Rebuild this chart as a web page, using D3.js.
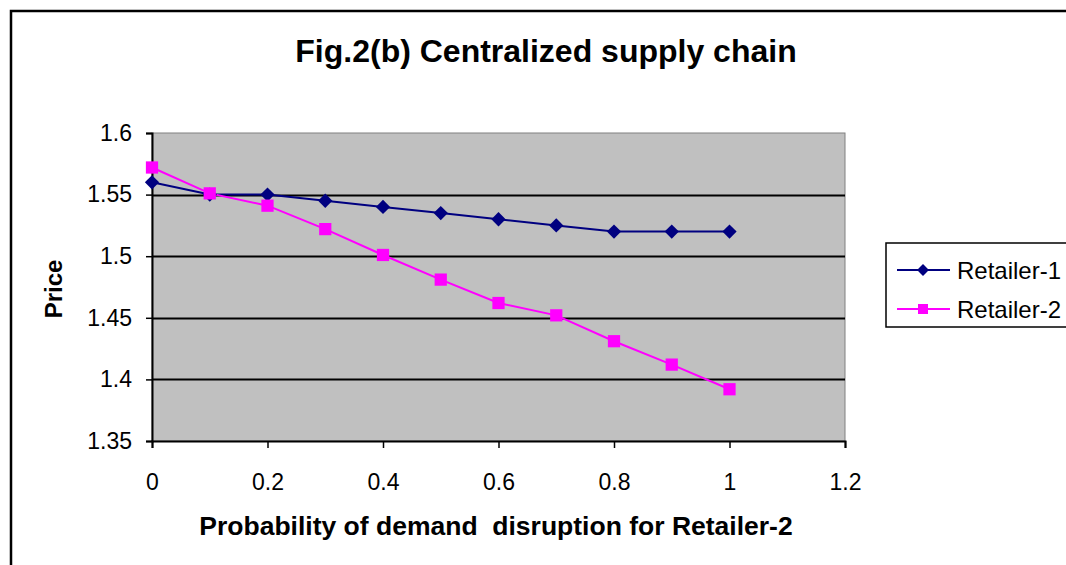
<!DOCTYPE html>
<html>
<head>
<meta charset="utf-8">
<script src="https://cdn.jsdelivr.net/npm/d3@7"></script>
<style>
  html, body { margin: 0; padding: 0; background: #fff; }
  svg { display: block; font-family: Arial, "Liberation Sans", sans-serif; }
</style>
</head>
<body>
<svg id="chart" width="1066" height="565"></svg>
<script>
// Probability of demand disruption for Retailer-2
const probabilities = [0, 0.1, 0.2, 0.3, 0.4, 0.5, 0.6, 0.7, 0.8, 0.9, 1.0];
// Centralized prices
const retailer1 = [1.56, 1.55, 1.55, 1.545, 1.54, 1.535, 1.53, 1.525, 1.52, 1.52, 1.52];
const retailer2 = [1.572, 1.551, 1.541, 1.522, 1.501, 1.481, 1.462, 1.452, 1.431, 1.412, 1.392];
const xTicks = [0, 0.2, 0.4, 0.6, 0.8, 1, 1.2];
const yTicks = [1.35, 1.4, 1.45, 1.5, 1.55, 1.6];
const seriesNames = ["Retailer-1", "Retailer-2"];
const seriesColors = ["#000080", "#FF00FF"];

const FONT = "Arial, 'Liberation Sans', sans-serif";
const svg = d3.select("#chart");
const plot = { left: 152, right: 845, top: 133, bottom: 441 };

const x = d3.scaleLinear().domain([0, 1.2]).range([plot.left, plot.right]);
const y = d3.scaleLinear().domain([1.35, 1.6]).range([plot.bottom, plot.top]);

// Outer chart frame (only left and top edges fall inside the view)
svg.append("path")
  .attr("d", `M11,565 V11 H1066`)
  .attr("fill", "none").attr("stroke", "#000").attr("stroke-width", 2.5);

// Plot area background
svg.append("rect")
  .attr("x", plot.left).attr("y", plot.top)
  .attr("width", plot.right - plot.left).attr("height", plot.bottom - plot.top)
  .attr("fill", "#C0C0C0").attr("stroke", "#808080").attr("stroke-width", 1);

// Horizontal gridlines
svg.append("g").selectAll("line")
  .data(yTicks.filter(t => t > 1.35 && t < 1.6))
  .join("line")
  .attr("x1", plot.left).attr("x2", plot.right)
  .attr("y1", d => Math.round(y(d)) + 0.5).attr("y2", d => Math.round(y(d)) + 0.5)
  .attr("stroke", "#000").attr("stroke-width", 2);

// Axes
const yAxis = d3.axisLeft(y).tickValues(yTicks).tickSize(6).tickPadding(14)
  .tickFormat(d => String(+d.toFixed(2)));
const gy = svg.append("g").attr("transform", `translate(${plot.left},0)`).call(yAxis);
gy.attr("font-size", null).attr("font-family", null);
gy.select(".domain").attr("stroke", "#000").attr("stroke-width", 2);
gy.selectAll(".tick line").attr("stroke", "#000").attr("stroke-width", 1.5);
gy.selectAll(".tick text").style("font-size", "23px").attr("fill", "#000").style("font-family", FONT);

const xAxis = d3.axisBottom(x).tickValues(xTicks).tickSize(7).tickPadding(26)
  .tickFormat(d => String(+d.toFixed(1)));
const gx = svg.append("g").attr("transform", `translate(0,${plot.bottom})`).call(xAxis);
gx.attr("font-size", null).attr("font-family", null);
gx.select(".domain").attr("stroke", "#000").attr("stroke-width", 2);
gx.selectAll(".tick line").attr("stroke", "#000").attr("stroke-width", 1.5);
gx.selectAll(".tick text").style("font-size", "23px").attr("fill", "#000").style("font-family", FONT);

// Series
const series = [retailer1, retailer2];
const line = d3.line().x((d, i) => x(probabilities[i])).y(d => y(d));
const diamond = d3.symbol().type(d3.symbolDiamond2).size(130);
const square = d3.symbol().type(d3.symbolSquare).size(150);

series.forEach((vals, s) => {
  svg.append("path").datum(vals).attr("d", line)
    .attr("fill", "none").attr("stroke", seriesColors[s]).attr("stroke-width", 2);
});
series.forEach((vals, s) => {
  svg.append("g").selectAll("path").data(vals).join("path")
    .attr("transform", (d, i) => `translate(${x(probabilities[i])},${y(d)})`)
    .attr("d", s === 0 ? diamond() : square())
    .attr("fill", seriesColors[s]);
});

// Titles
svg.append("text").attr("x", 546).attr("y", 62).attr("text-anchor", "middle")
  .style("font-size", "32px").attr("font-weight", "bold").text("Fig.2(b) Centralized supply chain");
svg.append("text").attr("x", 496).attr("y", 535).attr("text-anchor", "middle")
  .style("font-size", "26.5px").attr("font-weight", "bold")
  .style("white-space", "pre")
  .text("Probability of demand  disruption for Retailer-2");
svg.append("text").attr("transform", "translate(62,289) rotate(-90)")
  .attr("text-anchor", "middle").style("font-size", "24px").attr("font-weight", "bold").text("Price");

// Legend
const lg = svg.append("g");
lg.append("rect").attr("x", 886).attr("y", 243).attr("width", 200).attr("height", 84)
  .attr("fill", "#fff").attr("stroke", "#000").attr("stroke-width", 1.5);
seriesNames.forEach((name, s) => {
  const cy = 270 + s * 39;
  lg.append("line").attr("x1", 897).attr("x2", 950).attr("y1", cy).attr("y2", cy)
    .attr("stroke", seriesColors[s]).attr("stroke-width", 2);
  lg.append("path").attr("transform", `translate(923,${cy})`)
    .attr("d", s === 0 ? d3.symbol().type(d3.symbolDiamond2).size(90)() : d3.symbol().type(d3.symbolSquare).size(100)())
    .attr("fill", seriesColors[s]);
  lg.append("text").attr("x", 957).attr("y", cy + 9).style("font-size", "24px").text(name);
});
</script>
</body>
</html>
